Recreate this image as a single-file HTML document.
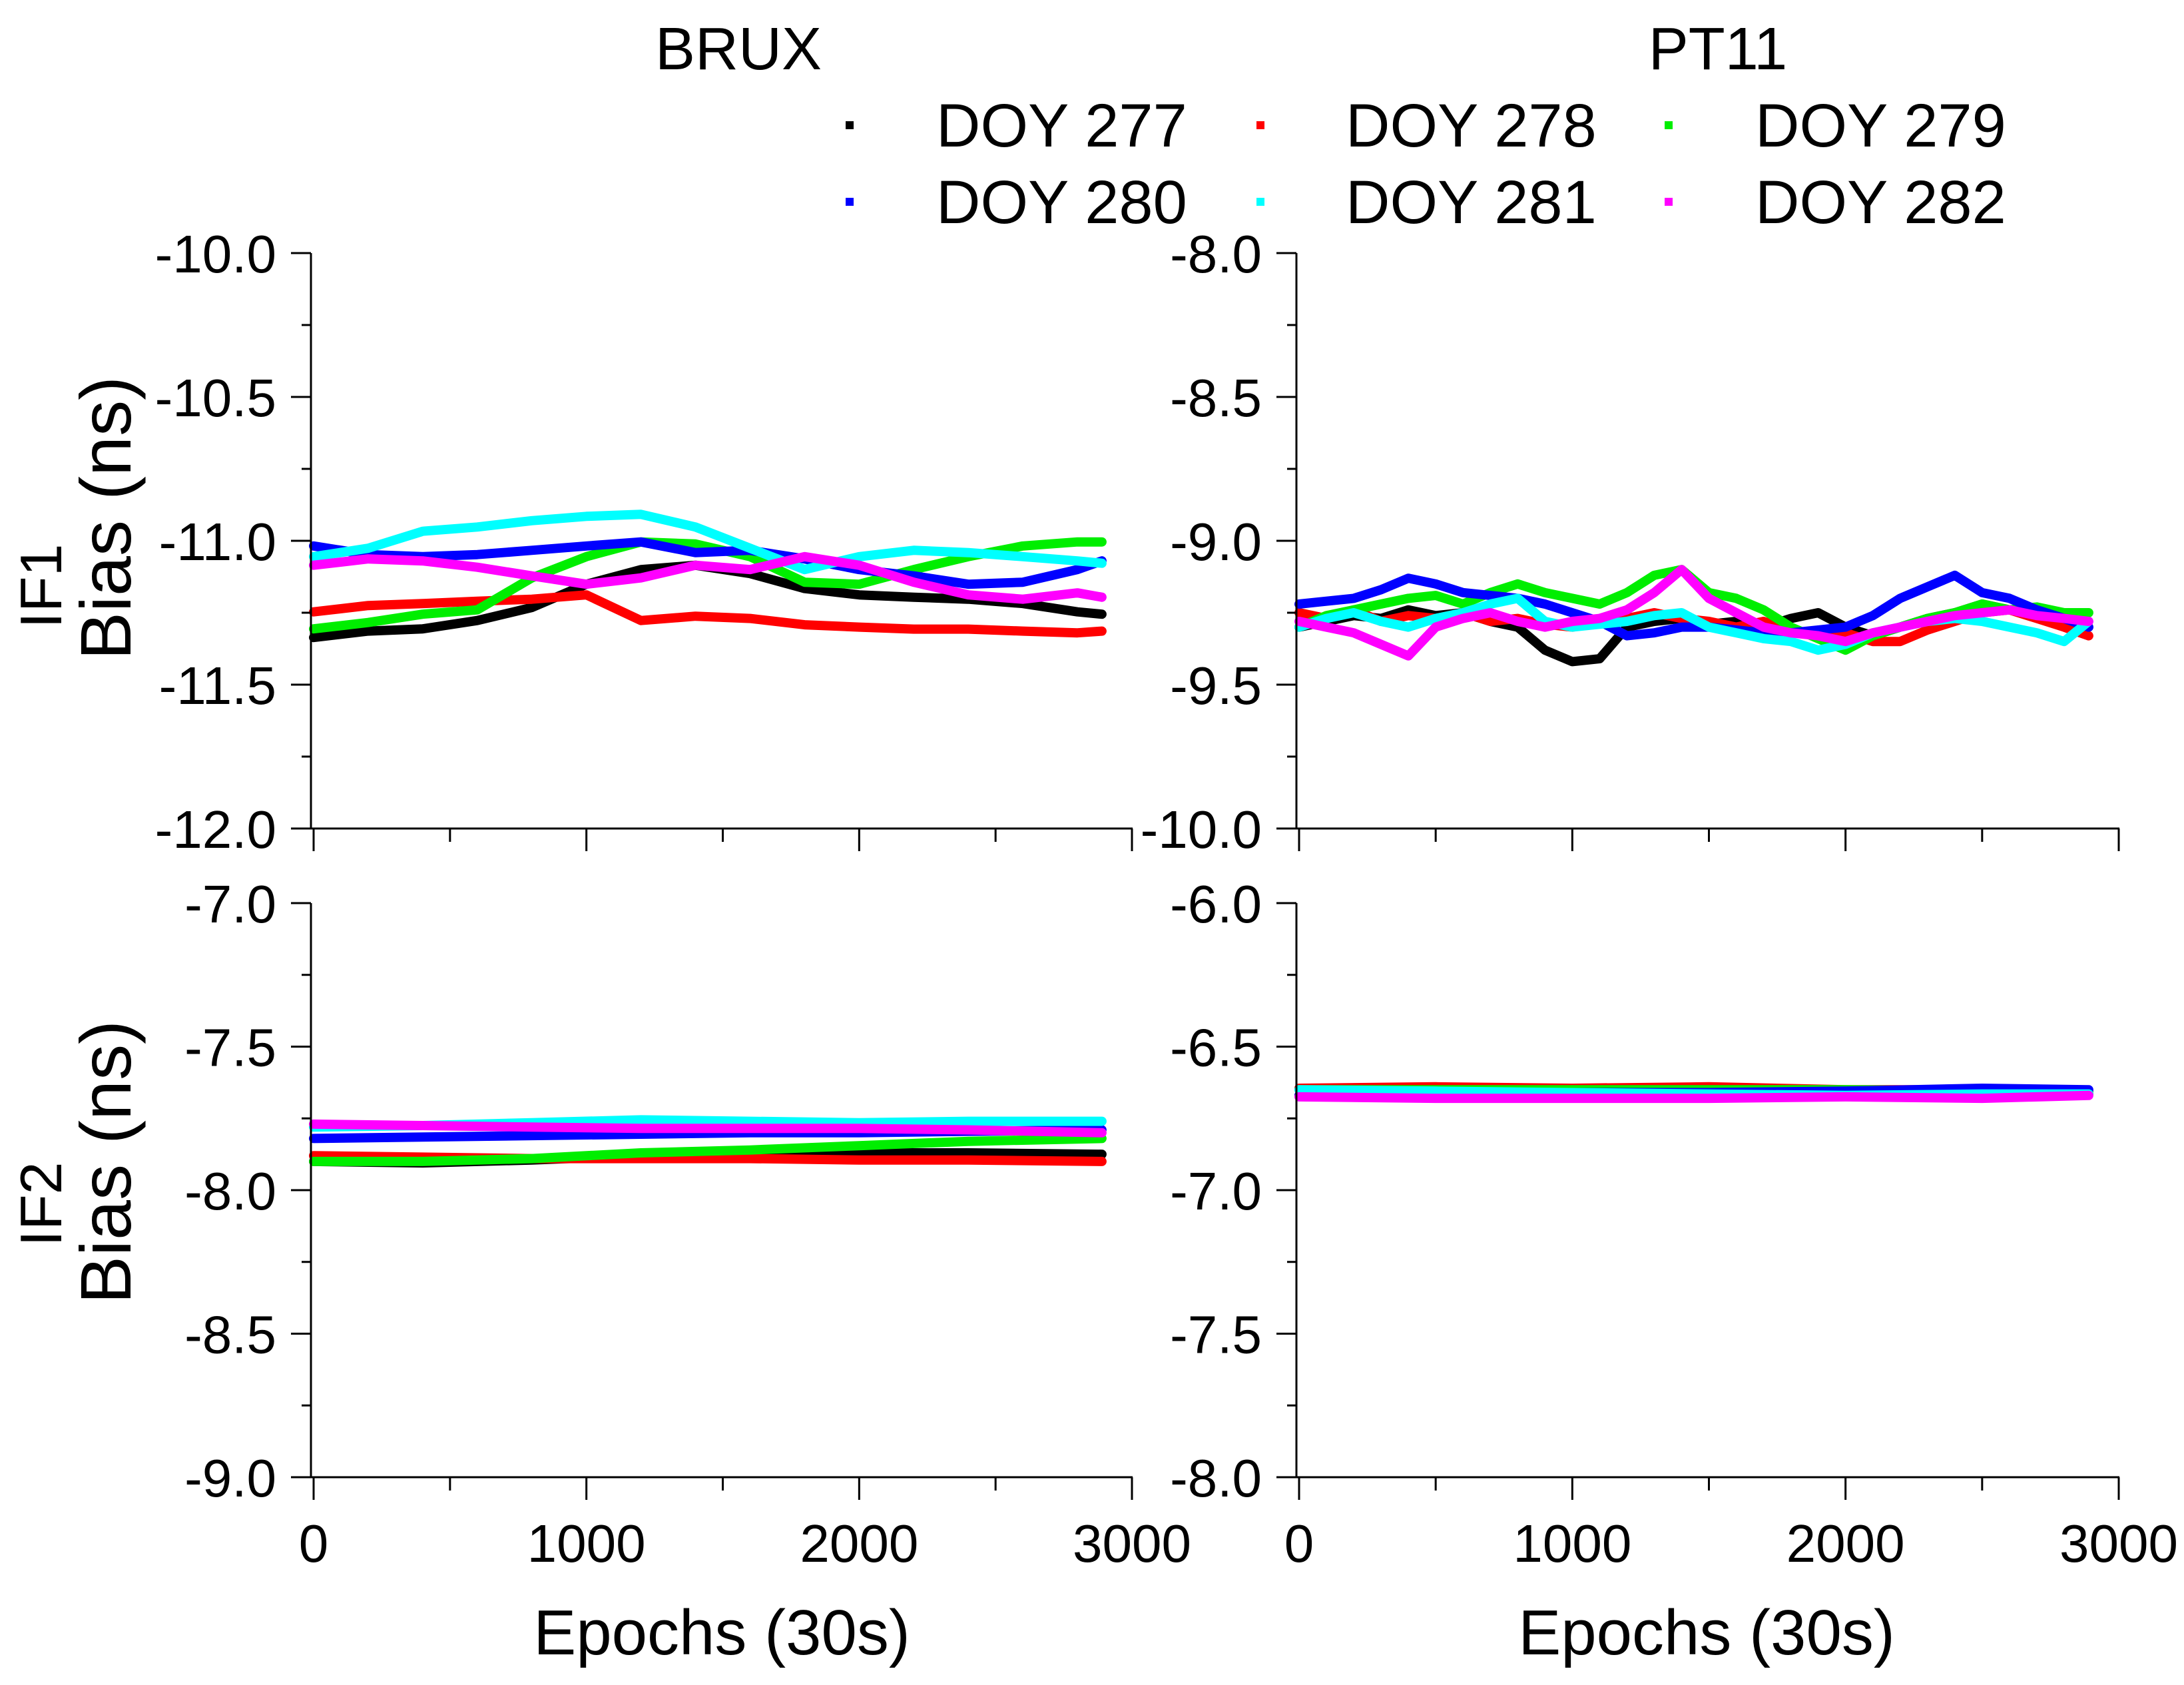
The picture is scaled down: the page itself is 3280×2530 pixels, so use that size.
<!DOCTYPE html>
<html><head><meta charset="utf-8"><style>
html,body{margin:0;padding:0;background:#fff}
svg{display:block}
text{font-family:"Liberation Sans",Arial,sans-serif;fill:#000}
</style></head>
<body>
<svg id="chart" width="3280" height="2530" viewBox="0 0 3280 2530" xmlns="http://www.w3.org/2000/svg">
<text x="1109" y="104" font-size="90" text-anchor="middle">BRUX</text>
<text x="2580" y="104" font-size="90" text-anchor="middle">PT11</text>
<g id="legend"></g>
<g id="plots"></g>
<text x="1084" y="2484" font-size="96" text-anchor="middle">Epochs (30s)</text>
<text x="2563" y="2484" font-size="96" text-anchor="middle">Epochs (30s)</text>
<text transform="translate(92,880) rotate(-90)" font-size="88" text-anchor="middle">IF1</text>
<text transform="translate(196,778) rotate(-90)" font-size="108" text-anchor="middle">Bias (ns)</text>
<text transform="translate(92,1808) rotate(-90)" font-size="88" text-anchor="middle">IF2</text>
<text transform="translate(196,1745) rotate(-90)" font-size="108" text-anchor="middle">Bias (ns)</text>
</svg>
<script>
const NS="http://www.w3.org/2000/svg";
const seriesNames=["DOY 277","DOY 278","DOY 279","DOY 280","DOY 281","DOY 282"];
const seriesColors=["#000000","#ff0000","#00ee00","#0000ff","#00ffff","#ff00ff"];
const bruxIF1Epochs=[0,200,400,600,800,1000,1200,1400,1600,1800,2000,2200,2400,2600,2800,2890];
const bruxIF1_277=[-11.336,-11.314,-11.306,-11.277,-11.232,-11.151,-11.10,-11.085,-11.114,-11.166,-11.188,-11.196,-11.203,-11.218,-11.247,-11.255];
const bruxIF1_278=[-11.247,-11.225,-11.218,-11.21,-11.203,-11.188,-11.277,-11.262,-11.27,-11.292,-11.30,-11.307,-11.307,-11.314,-11.32,-11.314];
const bruxIF1_279=[-11.306,-11.284,-11.255,-11.24,-11.129,-11.055,-11.004,-11.011,-11.055,-11.144,-11.151,-11.1,-11.055,-11.018,-11.004,-11.004];
const bruxIF1_280=[-11.018,-11.048,-11.055,-11.048,-11.033,-11.018,-11.004,-11.041,-11.033,-11.063,-11.1,-11.122,-11.151,-11.144,-11.1,-11.07];
const bruxIF1_281=[-11.055,-11.026,-10.967,-10.952,-10.93,-10.915,-10.908,-10.952,-11.026,-11.1,-11.055,-11.033,-11.041,-11.055,-11.07,-11.078];
const bruxIF1_282=[-11.085,-11.063,-11.07,-11.092,-11.122,-11.151,-11.129,-11.085,-11.1,-11.055,-11.085,-11.144,-11.188,-11.203,-11.181,-11.196];
const pt11IF1Epochs=[0,100,200,300,400,500,600,700,800,900,1000,1100,1200,1300,1400,1500,1600,1700,1800,1900,2000,2100,2200,2300,2400,2500,2600,2700,2800,2890];
const pt11IF1_277=[-9.30,-9.28,-9.26,-9.27,-9.24,-9.26,-9.25,-9.28,-9.30,-9.38,-9.42,-9.41,-9.30,-9.28,-9.27,-9.29,-9.28,-9.30,-9.27,-9.25,-9.30,-9.33,-9.30,-9.27,-9.25,-9.22,-9.24,-9.26,-9.28,-9.30];
const pt11IF1_278=[-9.25,-9.27,-9.24,-9.28,-9.26,-9.27,-9.25,-9.28,-9.27,-9.29,-9.30,-9.28,-9.27,-9.25,-9.27,-9.28,-9.30,-9.28,-9.31,-9.33,-9.32,-9.35,-9.35,-9.31,-9.28,-9.25,-9.24,-9.27,-9.30,-9.33];
const pt11IF1_279=[-9.30,-9.26,-9.24,-9.22,-9.20,-9.19,-9.22,-9.18,-9.15,-9.18,-9.20,-9.22,-9.18,-9.12,-9.10,-9.18,-9.20,-9.24,-9.30,-9.34,-9.38,-9.33,-9.30,-9.27,-9.25,-9.22,-9.24,-9.23,-9.25,-9.25];
const pt11IF1_280=[-9.22,-9.21,-9.20,-9.17,-9.13,-9.15,-9.18,-9.19,-9.20,-9.22,-9.25,-9.28,-9.33,-9.32,-9.30,-9.30,-9.31,-9.32,-9.32,-9.31,-9.30,-9.26,-9.20,-9.16,-9.12,-9.18,-9.20,-9.24,-9.27,-9.30];
const pt11IF1_281=[-9.30,-9.27,-9.25,-9.28,-9.30,-9.27,-9.25,-9.22,-9.20,-9.28,-9.30,-9.29,-9.28,-9.26,-9.25,-9.30,-9.32,-9.34,-9.35,-9.38,-9.36,-9.32,-9.30,-9.28,-9.27,-9.28,-9.30,-9.32,-9.35,-9.28];
const pt11IF1_282=[-9.28,-9.30,-9.32,-9.36,-9.40,-9.30,-9.27,-9.25,-9.28,-9.30,-9.28,-9.27,-9.24,-9.18,-9.10,-9.20,-9.25,-9.30,-9.32,-9.33,-9.35,-9.32,-9.30,-9.28,-9.26,-9.25,-9.24,-9.26,-9.27,-9.28];
const bruxIF2Epochs=[0,400,800,1200,1600,2000,2400,2890];
const bruxIF2_277=[-7.90,-7.905,-7.895,-7.88,-7.875,-7.87,-7.87,-7.875];
const bruxIF2_278=[-7.88,-7.885,-7.89,-7.89,-7.89,-7.895,-7.895,-7.90];
const bruxIF2_279=[-7.90,-7.90,-7.89,-7.87,-7.86,-7.845,-7.83,-7.82];
const bruxIF2_280=[-7.82,-7.815,-7.81,-7.805,-7.80,-7.80,-7.795,-7.79];
const bruxIF2_281=[-7.78,-7.775,-7.765,-7.755,-7.76,-7.765,-7.76,-7.76];
const bruxIF2_282=[-7.77,-7.775,-7.78,-7.785,-7.785,-7.785,-7.79,-7.80];
const pt11IF2Epochs=[0,500,1000,1500,2000,2500,2890];
const pt11IF2_277=[-6.67,-6.67,-6.67,-6.665,-6.665,-6.665,-6.665];
const pt11IF2_278=[-6.645,-6.64,-6.645,-6.64,-6.65,-6.65,-6.655];
const pt11IF2_279=[-6.65,-6.65,-6.65,-6.65,-6.65,-6.655,-6.655];
const pt11IF2_280=[-6.67,-6.665,-6.66,-6.66,-6.655,-6.645,-6.65];
const pt11IF2_281=[-6.65,-6.655,-6.66,-6.665,-6.67,-6.665,-6.665];
const pt11IF2_282=[-6.675,-6.68,-6.68,-6.68,-6.675,-6.68,-6.67];
const xTicks=[0,1000,2000,3000];
const yTicksTL=["-10.0","-10.5","-11.0","-11.5","-12.0"];
const yTicksTR=["-8.0","-8.5","-9.0","-9.5","-10.0"];
const yTicksBL=["-7.0","-7.5","-8.0","-8.5","-9.0"];
const yTicksBR=["-6.0","-6.5","-7.0","-7.5","-8.0"];

const panels=[
 {name:"brux-if1",x0:471,x1:1700,ax:467,yt:380,yb:1244,ymax:-10,ymin:-12,ticks:yTicksTL,ep:bruxIF1Epochs,s:[bruxIF1_277,bruxIF1_278,bruxIF1_279,bruxIF1_280,bruxIF1_281,bruxIF1_282],xl:false},
 {name:"pt11-if1",x0:1951,x1:3182,ax:1947,yt:380,yb:1244,ymax:-8,ymin:-10,ticks:yTicksTR,ep:pt11IF1Epochs,s:[pt11IF1_277,pt11IF1_278,pt11IF1_279,pt11IF1_280,pt11IF1_281,pt11IF1_282],xl:false},
 {name:"brux-if2",x0:471,x1:1700,ax:467,yt:1356,yb:2218,ymax:-7,ymin:-9,ticks:yTicksBL,ep:bruxIF2Epochs,s:[bruxIF2_277,bruxIF2_278,bruxIF2_279,bruxIF2_280,bruxIF2_281,bruxIF2_282],xl:true},
 {name:"pt11-if2",x0:1951,x1:3182,ax:1947,yt:1356,yb:2218,ymax:-6,ymin:-8,ticks:yTicksBR,ep:pt11IF2Epochs,s:[pt11IF2_277,pt11IF2_278,pt11IF2_279,pt11IF2_280,pt11IF2_281,pt11IF2_282],xl:true}
];
const root=document.getElementById('plots');
function el(tag,attrs,parent){const e=document.createElementNS(NS,tag);for(const k in attrs)e.setAttribute(k,attrs[k]);parent.appendChild(e);return e;}
panels.forEach(p=>{
 const g=el('g',{},root);
 
 
 const xs=v=>p.x0+(v/3000)*(p.x1-p.x0);
 const ys=v=>p.yt+(p.ymax-v)/(p.ymax-p.ymin)*(p.yb-p.yt);
 p.s.forEach((arr,i)=>{
  const d=arr.map((v,j)=>(j?'L':'M')+xs(p.ep[j]).toFixed(1)+','+ys(v).toFixed(1)).join(' ');
  const path=el('path',{d:d,fill:'none',stroke:seriesColors[i],'stroke-width':14,'stroke-linejoin':'round','stroke-linecap':'round'},g);
  
  
 });
 el('line',{x1:p.ax,y1:p.yt,x2:p.ax,y2:p.yb+1,stroke:'#000','stroke-width':3},g);
 el('line',{x1:p.ax,y1:p.yb,x2:p.x1+1,y2:p.yb,stroke:'#000','stroke-width':3},g);
 for(let k=0;k<=8;k++){
  const v=p.ymax-k*0.25, y=ys(v), major=k%2===0;
  el('line',{x1:p.ax-(major?30:14),y1:y,x2:p.ax,y2:y,stroke:'#000','stroke-width':3},g);
  if(major){const t=el('text',{x:p.ax-52,y:y+29,'font-size':80,'text-anchor':'end'},g);t.textContent=p.ticks[k/2];
   
   }
 }
 for(let k=0;k<=6;k++){
  const v=k*500,x=xs(v),major=k%2===0;
  el('line',{x1:x,y1:p.yb,x2:x,y2:p.yb+(major?34:20),stroke:'#000','stroke-width':3},g);
 }
 if(p.xl){xTicks.forEach(v=>{const t=el('text',{x:xs(v),y:2345,'font-size':80,'text-anchor':'middle'},g);t.textContent=v;
  
  });}
});
const lg=document.getElementById('legend');
const lx=[1276,1893,2506],tx=[1406,2021,2636],ly=[188,303];
seriesNames.forEach((n,i)=>{
 const c=i%3,r=Math.floor(i/3);
 const it=el('g',{},lg);
 
 
 el('rect',{x:lx[c]-6,y:ly[r]-6,width:12,height:12,fill:seriesColors[i]},it);
 const t=el('text',{x:tx[c],y:ly[r]+32,'font-size':92},it);t.textContent=n;
});
</script>
</body></html>
